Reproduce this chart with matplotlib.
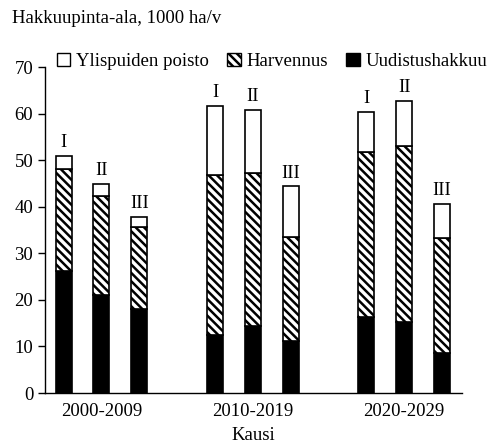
import matplotlib
matplotlib.use("Agg")
import matplotlib.pyplot as plt
import matplotlib.patches as mpatches
import numpy as np

plt.rcParams['font.family'] = ['Liberation Serif', 'DejaVu Serif']
plt.rcParams['hatch.linewidth'] = 1.8

periods = ['2000-2009', '2010-2019', '2020-2029']
scenarios = ['I', 'II', 'III']
# per period: values for scenarios I, II, III (1000 ha/v)
uudistus = [[26.2, 21.0, 18.0], [12.4, 14.4, 11.2], [16.4, 15.3, 8.5]]
harvennus = [[21.9, 21.2, 17.6], [34.4, 32.8, 22.4], [35.4, 37.7, 24.7]]
ylispuut = [[2.9, 2.7, 2.3], [14.9, 13.6, 10.8], [8.6, 9.8, 7.4]]

fs = 13.5
hatch = '\\\\\\\\'

fig = plt.figure(figsize=(4.96, 4.47), dpi=100)
ax = fig.add_axes([0.0907, 0.1208, 0.8403, 0.7292])

width = 0.106
offsets = [-0.25, 0.0, 0.25]
for g in range(len(periods)):
    for s in range(len(scenarios)):
        x = g + offsets[s]
        b1 = uudistus[g][s]
        b2 = harvennus[g][s]
        b3 = ylispuut[g][s]
        ax.bar(x, b1, width, color='black', edgecolor='black', linewidth=1.2)
        ax.bar(x, b2, width, bottom=b1, color='white', edgecolor='black',
               hatch=hatch, linewidth=1.2)
        ax.bar(x, b3, width, bottom=b1 + b2, color='white', edgecolor='black',
               linewidth=1.2)
        ax.text(x, b1 + b2 + b3 + 1.0, scenarios[s], ha='center', va='bottom',
                fontsize=fs)

ax.set_xlim(-0.373, 2.38)
ax.set_ylim(0, 70)
ax.set_yticks(np.arange(0, 71, 10))
ax.set_xticks(range(len(periods)))
ax.set_xticklabels(periods)
ax.tick_params(axis='y', direction='out', length=5, width=1, labelsize=fs)
ax.tick_params(axis='x', length=0, labelsize=fs, pad=7)
ax.spines['top'].set_visible(False)
ax.spines['right'].set_visible(False)
ax.spines['left'].set_linewidth(1)
ax.spines['bottom'].set_linewidth(1)
ax.set_xlabel('Kausi', fontsize=fs, labelpad=5)

fig.text(0.024, 0.958, 'Hakkuupinta-ala, 1000 ha/v', fontsize=fs, va='center')

handles = [
    mpatches.Patch(facecolor='white', edgecolor='black', label='Ylispuiden poisto'),
    mpatches.Patch(facecolor='white', edgecolor='black', hatch=hatch, label='Harvennus'),
    mpatches.Patch(facecolor='black', edgecolor='black', label='Uudistushakkuu'),
]
fig.legend(handles=handles, loc='center left', bbox_to_anchor=(0.115, 0.863),
           ncol=3, frameon=False, fontsize=fs, handlelength=0.7, handleheight=0.7,
           handletextpad=0.3, columnspacing=1.0, borderpad=0, borderaxespad=0)

fig.savefig('out.png', dpi=100)
